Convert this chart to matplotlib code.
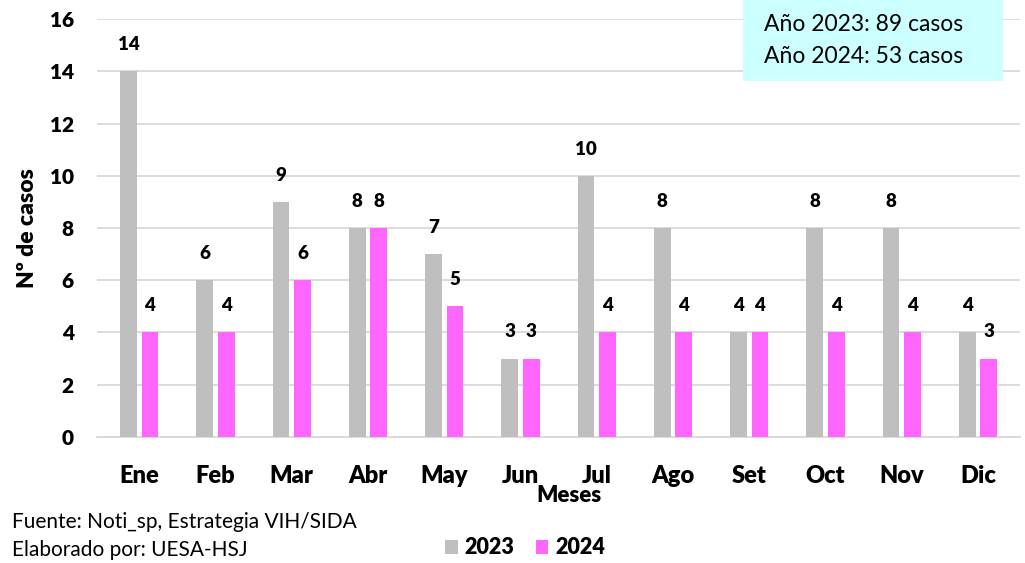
import numpy as np
import matplotlib.pyplot as plt
from matplotlib.patches import Rectangle

meses = ["Ene", "Feb", "Mar", "Abr", "May", "Jun", "Jul", "Ago", "Set", "Oct", "Nov", "Dic"]
casos_2023 = [14, 6, 9, 8, 7, 3, 10, 8, 4, 8, 8, 4]
casos_2024 = [4, 4, 6, 8, 5, 3, 4, 4, 4, 4, 4, 3]

gris = "#BFBFBF"
rosa = "#FF66FF"
negrita = "heavy"
plt.rcParams['font.family'] = ['Lato', 'DejaVu Sans']

fig = plt.figure(figsize=(10.25, 5.63), dpi=100)
ax = fig.add_axes([0.095, 0.224, 0.90, 0.742])

x = np.arange(len(meses))
w = 0.22
b1 = ax.bar(x - 0.14, casos_2023, w, color=gris, label="2023", zorder=3)
b2 = ax.bar(x + 0.14, casos_2024, w, color=rosa, label="2024", zorder=3)

for bars in (b1, b2):
    for r in bars:
        ax.text(r.get_x() + r.get_width() / 2, r.get_height() + 0.7, str(int(r.get_height())),
                ha="center", va="bottom", fontsize=13.5, fontweight=negrita)

ax.set_xlim(-0.55, len(meses) - 0.45)
ax.set_ylim(0, 16)
ax.set_yticks(range(0, 17, 2))
ax.set_xticks(x)
ax.set_xticklabels(meses, fontsize=17, fontweight=negrita)
ax.tick_params(axis="y", labelsize=15, length=0, pad=17)
ax.tick_params(axis="x", length=0, pad=20)
for lbl in ax.get_yticklabels():
    lbl.set_fontweight(negrita)
ax.grid(axis="y", color="#D9D9D9", linewidth=1.3, zorder=0)
for s in ["top", "right", "left"]:
    ax.spines[s].set_visible(False)
ax.spines["bottom"].set_color("#D9D9D9")
ax.spines["bottom"].set_linewidth(1.3)

fig.text(0.027, 0.595, "Nº de casos", rotation=90, ha="center", va="center",
         fontsize=16.5, fontweight=negrita)
fig.text(0.555, 0.12, "Meses", ha="center", va="center", fontsize=16, fontweight=negrita)

fig.legend(handles=[b1, b2], loc="center", bbox_to_anchor=(0.512, 0.027), ncol=2, frameon=False,
           prop={"size": 15.5, "weight": negrita}, handlelength=0.6, handleheight=0.6,
           handletextpad=0.3, columnspacing=1.0)

fig.text(0.012, 0.073, "Fuente: Noti_sp, Estrategia VIH/SIDA", fontsize=15, va="center")
fig.text(0.012, 0.023, "Elaborado por: UESA-HSJ", fontsize=15, va="center")

fig.patches.append(Rectangle((0.725, 0.857), 0.254, 0.145, transform=fig.transFigure,
                             facecolor="#CCFFFF", edgecolor="none", zorder=5))
fig.text(0.745, 0.956, "Año 2023: 89 casos", fontsize=16.5, va="center", zorder=6)
fig.text(0.745, 0.900, "Año 2024: 53 casos", fontsize=16.5, va="center", zorder=6)

fig.savefig("out.png", dpi=100)
